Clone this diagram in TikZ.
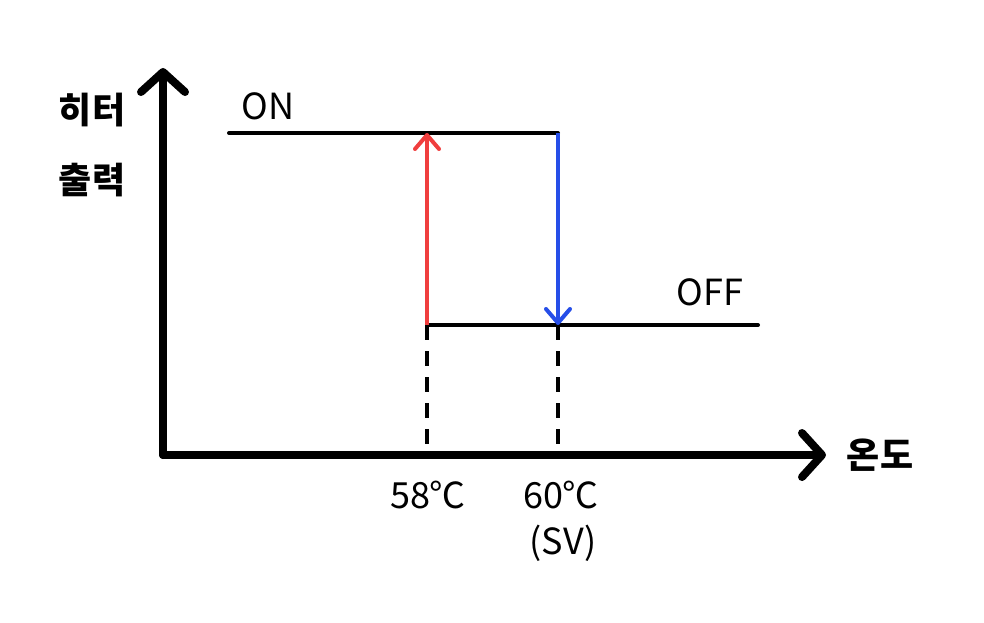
\documentclass[tikz,border=0pt]{standalone}
\usepackage{fontspec}
\setmainfont{Noto Sans CJK KR}
\usetikzlibrary{arrows.meta}
\definecolor{onred}{RGB}{240,62,62}
\definecolor{offblue}{RGB}{38,78,232}
\begin{document}
\begin{tikzpicture}[
  x=1pt, y=-1pt,
  axis/.style={line width=8pt, line cap=round,
               -{Straight Barb[length=20pt, width=44pt, round]}},
  level/.style={line width=4pt, line cap=round},
  switch/.style={line width=4pt,
                 -{Straight Barb[length=14pt, width=24pt, round]}},
  guide/.style={line width=3.5pt, dash pattern=on 15pt off 11pt},
  lbl/.style={inner sep=0pt, font=\fontsize{36}{40}\selectfont},
  kor/.style={lbl, font=\fontsize{36}{40}\selectfont\bfseries}
]
  \useasboundingbox (0,0) rectangle (984,622);
  % axes
  \coordinate (origin) at (163,455);
  \coordinate (ytop)   at (163,68);
  \coordinate (xend)   at (826,455);
  \draw[axis] (origin) -- (ytop);
  \draw[axis] (origin) -- (xend);
  % output levels
  \coordinate (onL)   at (229,133);
  \coordinate (onR)   at (558,133);
  \coordinate (offL)  at (427,325);
  \coordinate (offR)  at (758,325);
  \coordinate (onUp)  at (427,133);
  \coordinate (offDn) at (558,325);
  \draw[level] (onL) -- (onR);
  \draw[level] (offL) -- (offR);
  % switching
  \draw[switch, onred]   (offL) -- (onUp);
  \draw[switch, offblue] (onR) -- (offDn);
  % guides to the axis
  \coordinate (t58) at (427,455);
  \coordinate (t60) at (558,455);
  \draw[guide] (offL) -- (t58);
  \draw[guide] (offDn) -- (t60);
  % labels
  \node[lbl] (on)    at (268,106) {ON};
  \node[lbl] (off)   at (710,292) {OFF};
  \node[kor] (heat)  at (92,110)  {히터};
  \node[kor] (power) at (92,180)  {출력};
  \node[kor] (temp)  at (880,455) {온도};
  \node[lbl] (lo)    at (428,495) {58℃};
  \node[lbl] (sv)    at (561,495) {60℃};
  \node[lbl] (svtag) at (563,543) {(SV)};
\end{tikzpicture}
\end{document}
